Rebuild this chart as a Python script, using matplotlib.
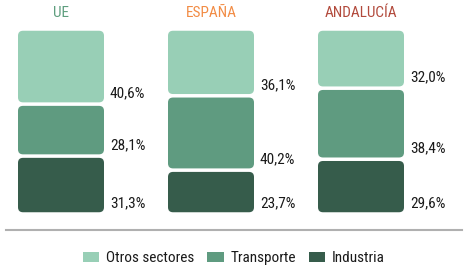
import matplotlib
matplotlib.use("Agg")
import matplotlib.pyplot as plt
from matplotlib import font_manager as fm
from matplotlib.patches import FancyBboxPatch, Patch
from matplotlib.lines import Line2D

# data
regions = ["UE", "ESPAÑA", "ANDALUCÍA"]
region_colors = ["#5e9e7e", "#f28c45", "#b24a3c"]
sectors = ["Otros sectores", "Transporte", "Industria"]
industria = [31.3, 23.7, 29.6]
transporte = [28.1, 40.2, 38.4]
otros = [40.6, 36.1, 32.0]
sector_colors = ["#98cfb6", "#5f9b80", "#365c4b"]

names = {f.name for f in fm.fontManager.ttflist}
font = "Roboto Condensed" if "Roboto Condensed" in names else "Roboto"
plt.rcParams["font.family"] = [font, "DejaVu Sans"]

W, H = 468, 266
fig = plt.figure(figsize=(W / 100, H / 100), dpi=100)
ax = fig.add_axes([0, 52 / H, 1, 185 / H])
# x: centre of first bar at 61px, 150px between bars
ax.set_xlim(-61 / 150, (W - 61) / 150)
ax.set_ylim(0, 100)
ax.axis("off")

px_x = 1 / 150
px_y = 100 / 185
width = 86 * px_x
gap = 1.75 * px_y

stack = [industria, transporte, otros]
stack_colors = sector_colors[::-1]
for i in range(len(regions)):
    bottom = 0
    for vals, col in zip(stack, stack_colors):
        v = vals[i]
        y0 = bottom + gap
        h = v - 2 * gap
        box = FancyBboxPatch((i - width / 2, y0), width, h,
                             boxstyle=f"round,pad=0,rounding_size={5 * px_x}",
                             mutation_aspect=px_y / px_x,
                             facecolor=col, edgecolor="none")
        ax.add_patch(box)
        ax.text(i + width / 2 + 6 * px_x, bottom + 3.5 * px_y,
                f"{v:.1f}%".replace(".", ","), ha="left", va="bottom",
                fontsize=11, color="#1a1a1a")
        bottom += v
    ax.text(i, 100 + 16 * px_y, regions[i], ha="center", va="center",
            fontsize=11, color=region_colors[i], clip_on=False)

# baseline under the bars
fig.add_artist(Line2D([6 / W, 462 / W], [1 - 229.5 / H, 1 - 229.5 / H],
                      color="#b0b0b0", lw=1.5))

handles = [Patch(facecolor=c, edgecolor="none") for c in sector_colors]
fig.legend(handles, sectors, loc="center", bbox_to_anchor=(234 / W, 1 - 258 / H),
           ncol=3, frameon=False, fontsize=11, handlelength=1.05,
           handleheight=0.65, handletextpad=0.45, columnspacing=0.85,
           labelcolor="#1a1a1a")

fig.savefig("out.png", dpi=100)
